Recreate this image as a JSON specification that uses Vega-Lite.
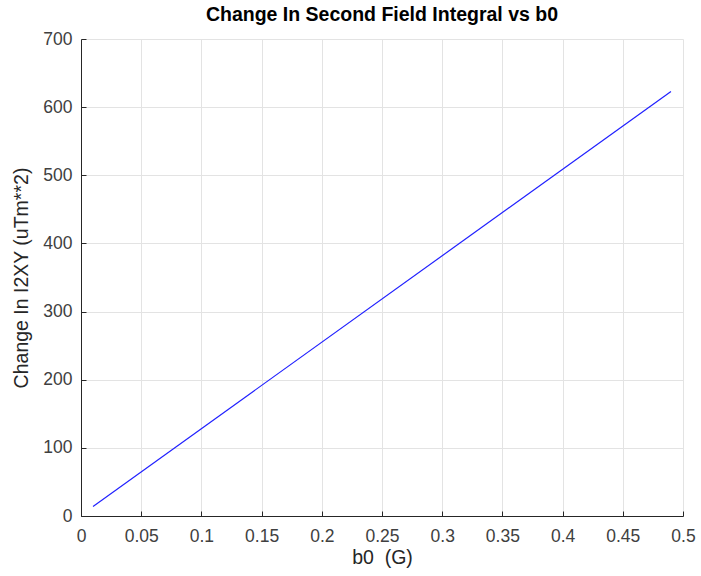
{
  "$schema": "https://vega.github.io/schema/vega-lite/v6.json",
  "width": 602,
  "height": 477,
  "autosize": {"type": "none"},
  "padding": {"left": 81, "top": 39, "right": 18, "bottom": 60},
  "background": "white",
  "title": {
    "text": "Change In Second Field Integral vs b0",
    "font": "Liberation Sans",
    "fontSize": 19.5,
    "fontWeight": "bold",
    "color": "#000000",
    "offset": 5,
    "anchor": "middle"
  },
  "config": {
    "view": {"stroke": null},
    "axis": {
      "labelFont": "Liberation Sans",
      "titleFont": "Liberation Sans",
      "labelFontSize": 17.5,
      "titleFontSize": 19.5,
      "labelColor": "#404040",
      "titleColor": "#262626",
      "titleFontWeight": "normal",
      "domainColor": "#262626",
      "tickColor": "#262626",
      "gridColor": "#e3e3e3",
      "tickSize": -5,
      "domainWidth": 1,
      "tickWidth": 1
    }
  },
  "data": {
    "values": [
      {"b0": 0.01, "dI": 14},
      {"b0": 0.49, "dI": 623}
    ]
  },
  "mark": {"type": "line", "color": "#2020ff", "strokeWidth": 1.2},
  "encoding": {
    "x": {
      "field": "b0",
      "type": "quantitative",
      "scale": {"domain": [0, 0.5], "nice": false, "zero": false},
      "axis": {
        "title": "b0\u00a0 (G)",
        "values": [0, 0.05, 0.1, 0.15, 0.2, 0.25, 0.3, 0.35, 0.4, 0.45, 0.5],
        "labelExpr": "datum.value == 0 ? '0' : replace(format(datum.value, '.2f'), /0$/, '')",
        "labelPadding": 16,
        "titleY": 32,
        "labelFlush": false
      }
    },
    "y": {
      "field": "dI",
      "type": "quantitative",
      "scale": {"domain": [0, 700], "nice": false},
      "axis": {
        "title": "Change In I2XY (uTm**2)",
        "values": [0, 100, 200, 300, 400, 500, 600, 700],
        "labelPadding": 14,
        "titleX": -50,
        "labelFlush": false
      }
    }
  }
}
